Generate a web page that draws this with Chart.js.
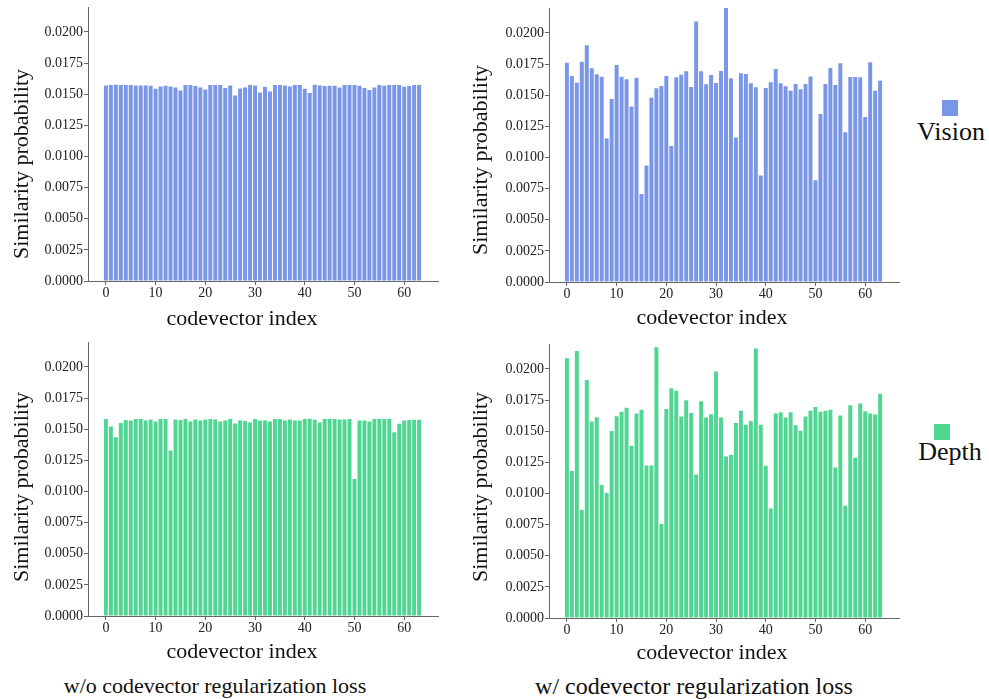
<!DOCTYPE html>
<html><head><meta charset="utf-8">
<script src="https://cdn.jsdelivr.net/npm/chart.js@4.4.1/dist/chart.umd.min.js"></script>
<style>
html,body{margin:0;padding:0;background:#fff;width:989px;height:699px;overflow:hidden;position:relative;font-family:"Liberation Serif","Times New Roman",serif;color:#111;}
canvas{position:absolute;}
.t{position:absolute;white-space:nowrap;line-height:1;font-size:22px;transform:translate(-50%,-50%);}
.r{transform:translate(-50%,-50%) rotate(-90deg);}
.lg{font-size:26px;}
.sq{position:absolute;width:16px;height:16px;}
</style></head><body>
<canvas id="c0" width="415" height="316" style="left:28px;top:-5px"></canvas>
<canvas id="c1" width="415" height="316" style="left:489px;top:-4px"></canvas>
<canvas id="c2" width="415" height="316" style="left:28px;top:330px"></canvas>
<canvas id="c3" width="415" height="316" style="left:489px;top:332px"></canvas>

<div class="t r" style="left:21px;top:164px">Similarity probability</div>
<div class="t r" style="left:480px;top:160px">Similarity probability</div>
<div class="t r" style="left:21px;top:487px">Similarity probability</div>
<div class="t r" style="left:480px;top:487px">Similarity probability</div>

<div class="t" style="left:242px;top:317.5px">codevector index</div>
<div class="t" style="left:712px;top:317px">codevector index</div>
<div class="t" style="left:242px;top:651px">codevector index</div>
<div class="t" style="left:712px;top:652px">codevector index</div>

<div class="t" style="left:215px;top:686px">w/o codevector regularization loss</div>
<div class="t" style="left:694px;top:686px;font-size:24px">w/ codevector regularization loss</div>

<div class="sq" style="left:942px;top:100px;background:#7a96e6"></div>
<div class="t lg" style="left:951px;top:131.5px">Vision</div>
<div class="sq" style="left:934px;top:424px;background:#50d692"></div>
<div class="t lg" style="left:950px;top:452px">Depth</div>

<script>
const codevectorIndex = [0,1,2,3,4,5,6,7,8,9,10,11,12,13,14,15,16,17,18,19,20,21,22,23,24,25,26,27,28,29,30,31,32,33,34,35,36,37,38,39,40,41,42,43,44,45,46,47,48,49,50,51,52,53,54,55,56,57,58,59,60,61,62,63];

const visionWithoutReg = [0.0157,0.01573,0.01576,0.01573,0.01573,0.01573,0.0157,0.0157,0.0157,0.01568,
 0.01544,0.01562,0.01568,0.01562,0.01554,0.0153,0.01573,0.01573,0.01565,0.01554,
 0.01538,0.01573,0.01573,0.01573,0.01549,0.0157,0.0149,0.01546,0.01554,0.01573,
 0.0157,0.01514,0.01559,0.01522,0.01573,0.01573,0.0157,0.01562,0.01573,0.01573,
 0.01544,0.01509,0.01576,0.0157,0.01565,0.01568,0.01568,0.01554,0.01573,0.01573,
 0.01573,0.01568,0.01549,0.01533,0.01554,0.01573,0.01568,0.01573,0.01573,0.01573,
 0.01559,0.01565,0.01573,0.01573];

const visionWithReg = [0.01761,0.01654,0.0160,0.01769,0.0190,0.01716,0.01668,0.01648,0.01152,0.01469,
 0.01742,0.01648,0.01627,0.0141,0.0164,0.00707,0.00935,0.01479,0.01555,0.01573,
 0.01654,0.01091,0.01643,0.01665,0.01692,0.01565,0.02091,0.01692,0.01587,0.01662,
 0.01598,0.01694,0.02199,0.01635,0.0116,0.01676,0.0167,0.01595,0.01563,0.00855,
 0.01557,0.01603,0.0171,0.01595,0.01571,0.01536,0.0159,0.01547,0.0159,0.01651,
 0.00817,0.01348,0.0159,0.01718,0.01581,0.01756,0.01203,0.01646,0.01646,0.01643,
 0.01324,0.01764,0.01536,0.01616];

const depthWithoutReg = [0.01581,0.01522,0.01436,0.01549,0.01573,0.0157,0.01581,0.01581,0.0157,0.01578,
 0.01562,0.01581,0.01581,0.01329,0.01578,0.01573,0.01581,0.01562,0.01578,0.0157,
 0.01578,0.01581,0.01578,0.01562,0.0157,0.01581,0.01546,0.0157,0.01565,0.01554,
 0.01581,0.0157,0.0157,0.01562,0.01581,0.01581,0.0157,0.01578,0.0157,0.0157,
 0.01581,0.01584,0.01576,0.01554,0.01581,0.01581,0.01581,0.01578,0.01578,0.01581,
 0.0110,0.0157,0.0157,0.01562,0.01581,0.01581,0.01581,0.01581,0.01476,0.01544,
 0.0157,0.01573,0.01576,0.01576];

const depthWithReg = [0.02085,0.01181,0.02144,0.00867,0.0191,0.01577,0.01612,0.01068,0.01004,0.01501,
 0.0162,0.01657,0.01689,0.01383,0.01641,0.01673,0.01224,0.01224,0.02173,0.00754,
 0.01679,0.01845,0.01824,0.01617,0.01748,0.01646,0.01152,0.0174,0.01609,0.01636,
 0.0198,0.01609,0.01297,0.01308,0.01566,0.01665,0.01552,0.01582,0.02163,0.01552,
 0.01222,0.0088,0.01641,0.01652,0.01609,0.01652,0.01547,0.01504,0.01617,0.01665,
 0.01695,0.01657,0.01665,0.01673,0.01208,0.01625,0.00902,0.01708,0.01286,0.01722,
 0.0166,0.01641,0.01633,0.018];

const yTickValues = [0,0.0025,0.005,0.0075,0.01,0.0125,0.015,0.0175,0.02];
const xTickValues = [0,10,20,30,40,50,60];

const VISION_COLOR = '#7a96e6';
const DEPTH_COLOR = '#50d692';
const AXIS_COLOR = '#666';
const TICK_FONT = {family: "'Liberation Serif', 'Times New Roman', serif", size: 14};

function makeChart(id, values, color) {
  const data = codevectorIndex.map((x, k) => ({x: x, y: values[k]}));
  new Chart(document.getElementById(id), {
    type: 'bar',
    data: {datasets: [{data: data, backgroundColor: color, borderWidth: 0,
      barPercentage: 0.8, categoryPercentage: 1.0}]},
    options: {
      responsive: false, animation: false,
      layout: {padding: {top: 12, right: 5, left: 0, bottom: 0}},
      plugins: {legend: {display: false}, tooltip: {enabled: false}},
      scales: {
        x: {
          type: 'linear', min: -3.6, max: 66.8, offset: false,
          afterBuildTicks: s => { s.ticks = xTickValues.map(v => ({value: v})); },
          afterFit: s => { s.height = 30; },
          ticks: {font: TICK_FONT, color: '#222', padding: 0, maxRotation: 0, autoSkip: false,
                  callback: v => String(v)},
          grid: {offset: false, drawOnChartArea: false, drawTicks: true, tickLength: 4, color: AXIS_COLOR},
          border: {display: true, color: AXIS_COLOR}
        },
        y: {
          min: 0, max: 0.022,
          afterBuildTicks: s => { s.ticks = yTickValues.map(v => ({value: v})); },
          afterFit: s => { s.width = 60; },
          ticks: {font: TICK_FONT, color: '#222', padding: 1, autoSkip: false,
                  callback: v => Number(v).toFixed(4)},
          grid: {drawOnChartArea: false, drawTicks: true, tickLength: 4, color: AXIS_COLOR},
          border: {display: true, color: AXIS_COLOR}
        }
      }
    }
  });
}

makeChart('c0', visionWithoutReg, VISION_COLOR);
makeChart('c1', visionWithReg, VISION_COLOR);
makeChart('c2', depthWithoutReg, DEPTH_COLOR);
makeChart('c3', depthWithReg, DEPTH_COLOR);
</script>
</body></html>
